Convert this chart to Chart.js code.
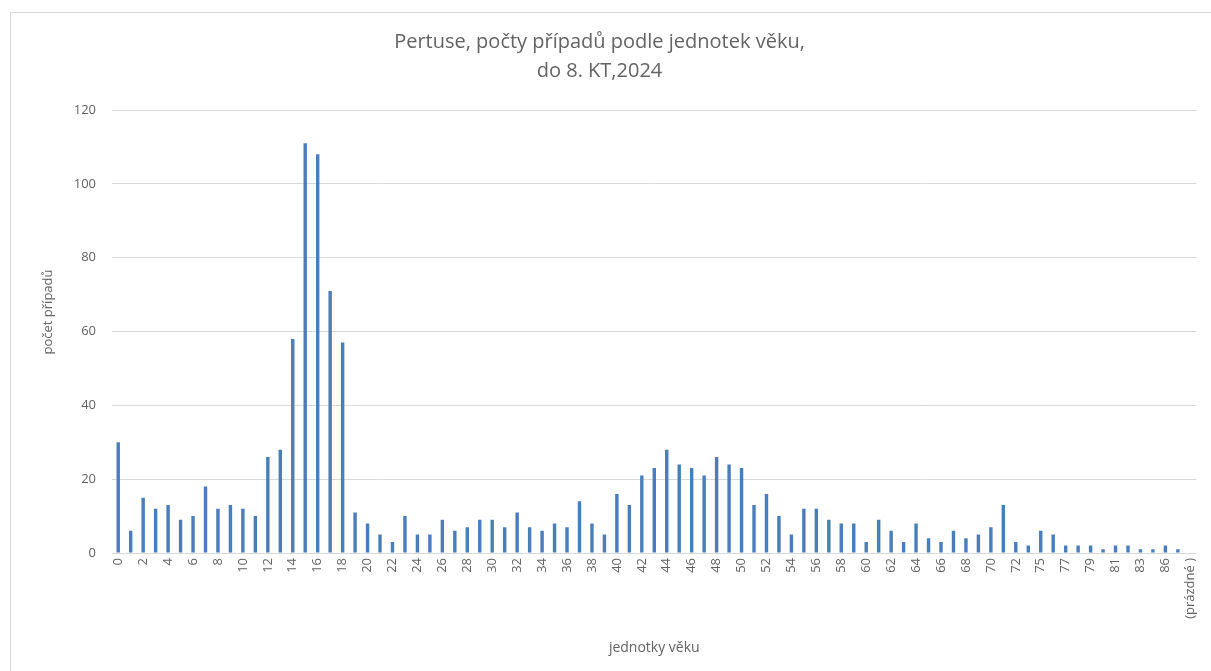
<!DOCTYPE html>
<html lang="cs">
<head>
<meta charset="utf-8">
<title>Pertuse, počty případů podle jednotek věku</title>
<script src="https://cdn.jsdelivr.net/npm/chart.js@4.4.1/dist/chart.umd.min.js"></script>
<style>
    html, body { margin: 0; padding: 0; background: #fff; }
    #wrap { width: 1211px; height: 671px; }
</style>
</head>
<body>
<div id="wrap"><canvas id="graf" width="1211" height="671"></canvas></div>
<script>
// jednotky věku (kategorie na ose X)
const vek = [
    '0', '1', '2', '3', '4', '5', '6', '7', '8', '9',
    '10', '11', '12', '13', '14', '15', '16', '17', '18', '19',
    '20', '21', '22', '23', '24', '25', '26', '27', '28', '29',
    '30', '31', '32', '33', '34', '35', '36', '37', '38', '39',
    '40', '41', '42', '43', '44', '45', '46', '47', '48', '49',
    '50', '51', '52', '53', '54', '55', '56', '57', '58', '59',
    '60', '61', '62', '63', '64', '65', '66', '67', '68', '69',
    '70', '71', '72', '73', '75', '76', '77', '78', '79', '80',
    '81', '82', '83', '84', '86', '87', '(prázdné )'
];

// počty případů pro každou jednotku věku
const pocty = [
    30, 6, 15, 12, 13, 9, 10, 18, 12, 13,
    12, 10, 26, 28, 58, 111, 108, 71, 57, 11,
    8, 5, 3, 10, 5, 5, 9, 6, 7, 9,
    9, 7, 11, 7, 6, 8, 7, 14, 8, 5,
    16, 13, 21, 23, 28, 24, 23, 21, 26, 24,
    23, 13, 16, 10, 5, 12, 12, 9, 8, 8,
    3, 9, 6, 3, 8, 4, 3, 6, 4, 5,
    7, 13, 3, 2, 6, 5, 2, 2, 2, 1,
    2, 2, 1, 1, 2, 1, 0
];

// texty grafu
const nadpis = ['Pertuse, počty případů podle jednotek věku,', 'do 8. KT,2024'];
const popisY = 'počet případů';
const popisX = 'jednotky věku';

// rozsah osy Y
const osaYMax = 120;
const osaYKrok = 20;

const pismo = "'Open Sans', 'DejaVu Sans', sans-serif";
const sedaText = '#636363';

// bílé pozadí a rámeček okolo grafu
const ramecek = {
    id: 'ramecek',
    beforeDraw(chart) {
        const ctx = chart.ctx;
        ctx.save();
        ctx.fillStyle = '#fff';
        ctx.fillRect(0, 0, chart.width, chart.height);
        ctx.strokeStyle = '#d9d9d9';
        ctx.lineWidth = 1;
        ctx.strokeRect(10.5, 12.5, chart.width, chart.height);
        ctx.restore();
    }
};

// popisek osy Y (svisle, kousek nad středem jako v Excelu)
const titulekY = {
    id: 'titulekY',
    afterDraw(chart) {
        const ctx = chart.ctx;
        ctx.save();
        ctx.translate(48, 312);
        ctx.rotate(-Math.PI / 2);
        ctx.font = '13px ' + pismo;
        ctx.fillStyle = sedaText;
        ctx.textAlign = 'center';
        ctx.textBaseline = 'middle';
        ctx.fillText(popisY, 0, 0);
        ctx.restore();
    }
};

const ctx = document.getElementById('graf').getContext('2d');
new Chart(ctx, {
    type: 'bar',
    data: {
        labels: vek,
        datasets: [{
            data: pocty,
            backgroundColor: '#4a7ebb',
            barPercentage: 0.55,
            categoryPercentage: 0.5
        }]
    },
    options: {
        responsive: false,
        animation: false,
        layout: { padding: { left: 0, right: 12, top: 0, bottom: 0 } },
        plugins: {
            legend: { display: false },
            tooltip: { enabled: false },
            title: {
                display: true,
                text: nadpis,
                color: sedaText,
                font: { family: pismo, size: 20, weight: 'normal', lineHeight: 1.45 },
                padding: { top: 28, bottom: 24 }
            }
        },
        scales: {
            x: {
                grid: { display: false, drawTicks: false },
                border: { display: false },
                ticks: {
                    autoSkip: false,
                    minRotation: 90,
                    maxRotation: 90,
                    padding: 5,
                    color: sedaText,
                    font: { family: pismo, size: 13 },
                    // popisek jen u každé druhé kategorie
                    callback: function(value, index) {
                        return index % 2 === 0 ? this.getLabelForValue(value) : '';
                    }
                },
                title: {
                    display: true,
                    text: popisX,
                    color: sedaText,
                    font: { family: pismo, size: 14 },
                    padding: { top: 0, bottom: 15 }
                },
                afterFit: function(scale) { scale.height = 118; }
            },
            y: {
                min: 0,
                max: osaYMax,
                grid: { color: '#d9d9d9', drawTicks: false },
                border: { display: false },
                ticks: {
                    stepSize: osaYKrok,
                    padding: 16,
                    color: sedaText,
                    font: { family: pismo, size: 13 }
                },
                afterFit: function(scale) { scale.width = 112; }
            }
        }
    },
    plugins: [ramecek, titulekY]
});
</script>
</body>
</html>
